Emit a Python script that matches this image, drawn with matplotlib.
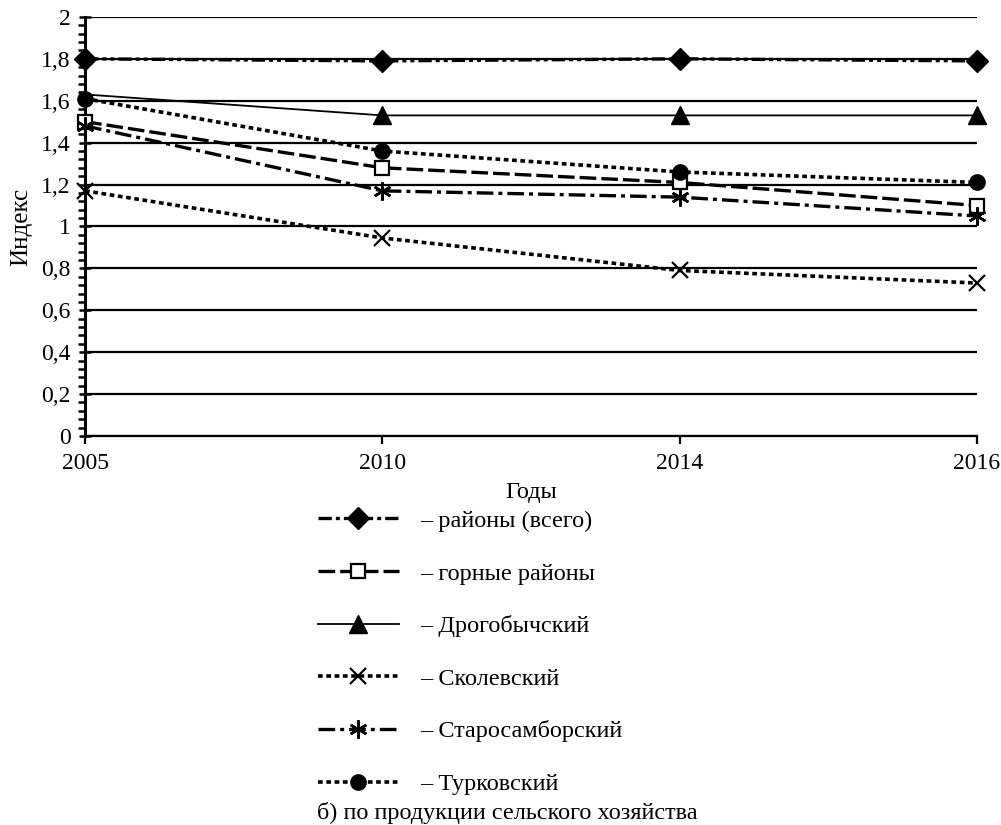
"""
Индекс по продукции сельского хозяйства, 2005-2016
"""
import matplotlib
matplotlib.use("Agg")
import matplotlib.pyplot as plt
from matplotlib.lines import Line2D
from matplotlib.ticker import MultipleLocator, FuncFormatter

plt.rcParams['font.family'] = ['Liberation Serif', 'DejaVu Serif']

# DATA
years = ['2005', '2010', '2014', '2016']
rayony_vsego = [1.80, 1.79, 1.80, 1.79]
gornye_rayony = [1.50, 1.28, 1.21, 1.10]
drogobych = [1.63, 1.53, 1.53, 1.53]
skole = [1.17, 0.945, 0.79, 0.73]
starosambor = [1.48, 1.17, 1.14, 1.05]
turka = [1.61, 1.36, 1.26, 1.21]

labels = ['– районы (всего)', '– горные районы', '– Дрогобычский',
          '– Сколевский', '– Старосамборский', '– Турковский']

# STYLES
styles = [
    dict(ls=(0, (4, 1.2, 1.2, 1.2, 1.2, 1.2)), lw=2.4, marker='D', ms=11, mfc='black', mec='black'),
    dict(ls=(0, (5, 1.5)), lw=2.4, marker='s', ms=10, mfc='white', mec='black', mew=1.6),
    dict(ls='-', lw=1.3, marker='^', ms=13, mfc='black', mec='black'),
    dict(ls=(0, (1.3, 1.0)), lw=2.6, marker='x', ms=11, mfc='none', mec='black', mew=1.6),
    dict(ls=(0, (5, 1.5, 1.2, 1.5)), lw=2.4, marker=(6, 2, 0), ms=13, mfc='none', mec='black', mew=1.8),
    dict(ls=(0, (1.3, 1.0)), lw=2.6, marker='o', ms=11, mfc='black', mec='black'),
]
series = [rayony_vsego, gornye_rayony, drogobych, skole, starosambor, turka]
# triangle at 2005 is not drawn in the original (hidden)
markevery = [None, None, [1, 2, 3], None, None, None]

fig = plt.figure(figsize=(10.01, 8.25), dpi=100)
ax = fig.add_axes([0.085, 0.4715, 0.891, 0.508])

x = list(range(len(years)))
for ys, st, me in zip(series, styles, markevery):
    ax.plot(x, ys, color='black', dash_capstyle='butt', clip_on=False, zorder=3,
            markevery=me, **st)

ax.set_xlim(0, len(years) - 1)
ax.set_ylim(0, 2)
ax.yaxis.set_major_locator(MultipleLocator(0.2))
ax.yaxis.set_minor_locator(MultipleLocator(0.04))
ax.yaxis.set_major_formatter(FuncFormatter(lambda v, p: f"{v:.1f}".replace('.', ',').replace(',0', '')))
ax.set_xticks(x)
ax.set_xticklabels(years)
ax.grid(True, axis='y', color='black', lw=1.6)
ax.set_axisbelow(True)

for s in ['top', 'right']:
    ax.spines[s].set_visible(False)
ax.spines['left'].set_linewidth(2.2)
ax.spines['bottom'].set_linewidth(1.6)
ax.tick_params(axis='y', which='major', direction='inout', length=9, width=1.8, labelsize=17, pad=6)
ax.tick_params(axis='y', which='minor', direction='out', length=5, width=1.8)
ax.tick_params(axis='x', which='major', direction='out', length=6, width=1.6, labelsize=17, pad=6)

ax.set_ylabel('Индекс', fontsize=18, labelpad=6)
ax.set_xlabel('Годы', fontsize=17.5, labelpad=6)

handles = [Line2D([], [], color='black', dash_capstyle='butt', **st) for st in styles]
fig.legend(handles, labels, loc='upper left', bbox_to_anchor=(0.318, 0.382),
           frameon=False, fontsize=17.5, handlelength=3.3, handletextpad=0.9,
           labelspacing=1.26, borderpad=0, borderaxespad=0)

fig.text(0.317, 0.001, 'б) по продукции сельского хозяйства', fontsize=17.5, ha='left', va='bottom')

plt.savefig('out.png', dpi=100)
